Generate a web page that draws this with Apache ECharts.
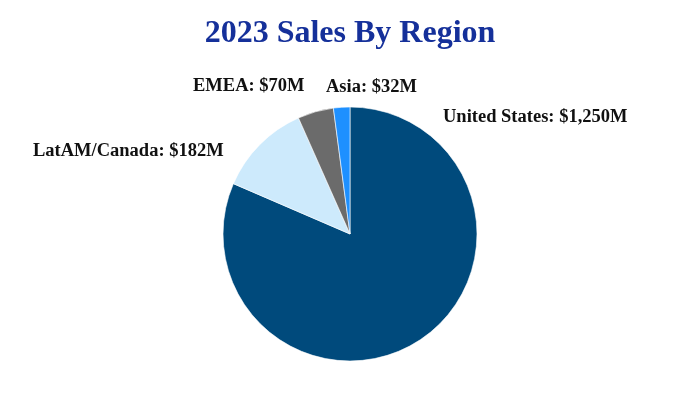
<!DOCTYPE html>
<html><head><meta charset="utf-8">
<script src="https://cdn.jsdelivr.net/npm/echarts@6/dist/echarts.min.js"></script>
<style>html,body{margin:0;padding:0;background:#fff}#c{width:700px;height:400px}</style>
</head><body><div id="c"></div>
<script>
var categories = ['United States', 'LatAM/Canada', 'EMEA', 'Asia'];
var sales = [1250, 182, 70, 32];
var labelTexts = ['United States: $1,250M', 'LatAM/Canada: $182M', 'EMEA: $70M', 'Asia: $32M'];
var colors = ['#004a7c', '#cdeafc', '#6b6b6b', '#1e90ff'];
var labelPos = [[443, 117, 'left'], [33, 151, 'left'], [193, 86, 'left'], [326, 87, 'left']];

var chart = echarts.init(document.getElementById('c'));
chart.setOption({
  animation: false,
  title: {
    text: '2023 Sales By Region', left: 'center', top: 13,
    textStyle: {fontFamily: 'Liberation Serif', fontWeight: 'bold', fontSize: 32, color: '#15309a'}
  },
  series: [{
    type: 'pie',
    center: [350, 234],
    radius: 127,
    startAngle: 90,
    clockwise: true,
    itemStyle: {borderColor: '#fff', borderWidth: 0.6},
    label: {
      show: true, position: 'outside',
      fontFamily: 'Liberation Serif', fontWeight: 'bold', fontSize: 18.5, color: '#111',
      formatter: function (p) { return labelTexts[p.dataIndex]; }
    },
    labelLine: {show: false},
    labelLayout: function (p) {
      var lp = labelPos[p.dataIndex];
      return {x: lp[0], y: lp[1], align: lp[2], verticalAlign: 'middle'};
    },
    data: categories.map(function (c, i) {
      return {name: c, value: sales[i], itemStyle: {color: colors[i]}};
    })
  }]
});
</script></body></html>
